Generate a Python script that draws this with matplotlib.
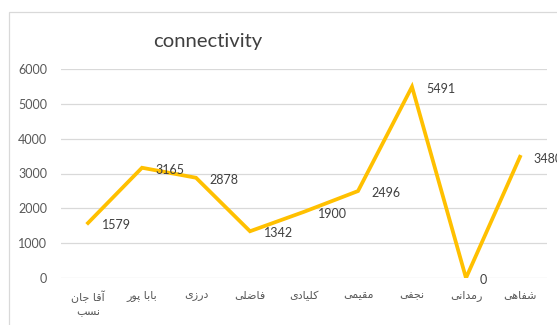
import matplotlib
matplotlib.use("Agg")
import matplotlib.pyplot as plt
from matplotlib.patches import Rectangle

names = ["آقا جان\nنسب", "بابا پور", "درزی", "فاضلی", "کلیادی",
         "مقیمی", "نجفی", "رمدانی", "شفاهی"]
values = [1579, 3165, 2878, 1342, 1900, 2496, 5491, 0, 3480]
yticks = [0, 1000, 2000, 3000, 4000, 5000, 6000]
title = "connectivity"

# contextual forms: (isolated, final, initial, medial); two-form letters join only to the right
FORMS = {
    "\u0627": (0xFE8D, 0xFE8E), "\u0622": (0xFE81, 0xFE82),
    "\u062F": (0xFEA9, 0xFEAA), "\u0631": (0xFEAD, 0xFEAE),
    "\u0632": (0xFEAF, 0xFEB0), "\u0648": (0xFEED, 0xFEEE),
    "\u0628": (0xFE8F, 0xFE90, 0xFE91, 0xFE92), "\u067E": (0xFB56, 0xFB57, 0xFB58, 0xFB59),
    "\u062C": (0xFE9D, 0xFE9E, 0xFE9F, 0xFEA0), "\u0633": (0xFEB1, 0xFEB2, 0xFEB3, 0xFEB4),
    "\u0634": (0xFEB5, 0xFEB6, 0xFEB7, 0xFEB8), "\u0636": (0xFEBD, 0xFEBE, 0xFEBF, 0xFEC0),
    "\u0641": (0xFED1, 0xFED2, 0xFED3, 0xFED4), "\u0642": (0xFED5, 0xFED6, 0xFED7, 0xFED8),
    "\u06A9": (0xFB8E, 0xFB8F, 0xFB90, 0xFB91), "\u0644": (0xFEDD, 0xFEDE, 0xFEDF, 0xFEE0),
    "\u0645": (0xFEE1, 0xFEE2, 0xFEE3, 0xFEE4), "\u0646": (0xFEE5, 0xFEE6, 0xFEE7, 0xFEE8),
    "\u0647": (0xFEE9, 0xFEEA, 0xFEEB, 0xFEEC), "\u06CC": (0xFBFC, 0xFBFD, 0xFBFE, 0xFBFF),
}


def shape_word(word):
    out = []
    for i, ch in enumerate(word):
        f = FORMS.get(ch)
        if f is None:
            out.append(ch)
            continue
        prev = word[i - 1] if i > 0 else None
        nxt = word[i + 1] if i + 1 < len(word) else None
        joins_prev = prev in FORMS and len(FORMS[prev]) == 4
        joins_next = len(f) == 4 and nxt in FORMS
        if joins_prev and joins_next:
            out.append(chr(f[3]))
        elif joins_prev:
            out.append(chr(f[1]))
        elif joins_next:
            out.append(chr(f[2]))
        else:
            out.append(chr(f[0]))
    return "".join(out)


def rtl(text):
    lines = []
    for line in text.split("\n"):
        shaped = " ".join(shape_word(w) for w in line.split(" "))
        lines.append(shaped[::-1])
    return "\n".join(lines)


grey = "#595959"
fig = plt.figure(figsize=(5.57, 3.25), dpi=100)
ax = fig.add_axes([61 / 557, 47 / 325, 486 / 557, 209 / 325])

# chart area border
fig.patches.append(Rectangle((8.5 / 557, -0.1), 1.0, (313 / 325) + 0.1, transform=fig.transFigure,
                             fill=False, edgecolor="#D9D9D9", linewidth=0.9))

x = list(range(len(values)))
ax.plot(x, values, color="#FFC000", linewidth=2.7, solid_joinstyle="miter")
for xi, v in zip(x, values):
    ax.annotate(str(v), (xi, v), xytext=(10, -1.5), textcoords="offset points",
                ha="left", va="center", fontsize=9, color="#404040", family=["Lato", "DejaVu Sans"])

ax.set_xlim(-0.5, len(values) - 0.5)
ax.set_ylim(0, 6000)
ax.set_yticks(yticks)
ax.set_yticklabels([str(t) for t in yticks], fontsize=9, color=grey, family=["Lato", "DejaVu Sans"])
ax.set_xticks(x)
ax.set_xticklabels([rtl(n) for n in names], fontsize=8, color=grey, family="DejaVu Sans",
                   linespacing=1.5)
ax.tick_params(axis="both", length=0)
ax.tick_params(axis="y", pad=10)
ax.tick_params(axis="x", pad=9)
ax.grid(axis="y", color="#D9D9D9", linewidth=0.9)
ax.set_axisbelow(True)
for s in ax.spines.values():
    s.set_visible(False)

fig.text(208 / 557, 1 - 42 / 325, title, ha="center", va="center", fontsize=14.6, color="#404040",
         family=["Lato", "DejaVu Sans"])

fig.savefig("out.png", dpi=100)
